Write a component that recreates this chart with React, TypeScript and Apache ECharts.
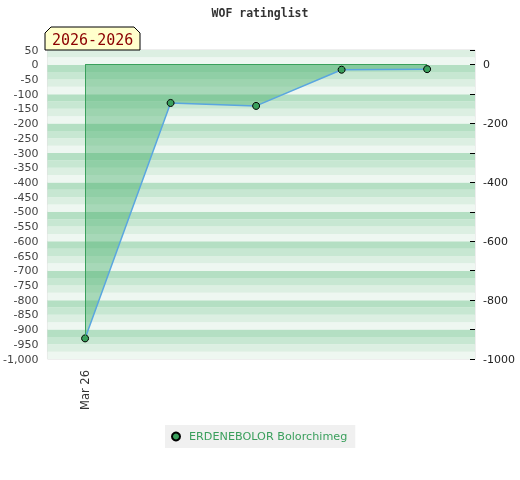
import React, { useEffect, useRef } from "react";
import * as echarts from "echarts";

const seriesName = "ERDENEBOLOR Bolorchimeg";
const xIndex = [0, 1, 2, 3, 4];
const xLabels = ["Mar 26", "", "", "", ""];
const ratingValues = [-930, -130, -140, -17, -15];
const periodLabel = "2026-2026";
const chartTitle = "WOF ratinglist";
const stripeColors = ["#eef7f1", "#dcefe2", "#c7e7d2", "#b4dfc3"];

export default function App() {
  const ref = useRef<HTMLDivElement>(null);
  useEffect(() => {
    if (!ref.current) return;
    const chart = echarts.init(ref.current, null, { renderer: "svg" });
    const data = xIndex.map((x, i) => [x, ratingValues[i]]);
    const last = xIndex.length - 1;
    chart.setOption({
      animation: false,
      title: {
        text: chartTitle,
        left: "center",
        top: 2,
        textStyle: {
          fontFamily: "DejaVu Sans Mono",
          fontWeight: "bold",
          fontSize: 11.5,
          color: "#333",
        },
      },
      grid: {
        left: 45,
        right: 45,
        top: 50,
        bottom: 121,
        show: true,
        borderColor: "#dddddd",
        borderWidth: 1,
      },
      legend: {
        top: 425,
        left: 165,
        backgroundColor: "#f0f0f0",
        padding: [6, 8, 6, 6],
        icon: "circle",
        itemWidth: 16,
        itemHeight: 8,
        itemGap: 6,
        textStyle: { color: "#3a9f5c", fontSize: 11.2, fontFamily: "DejaVu Sans" },
        data: [seriesName],
      },
      xAxis: {
        type: "value",
        min: -0.44,
        max: 4.56,
        axisLine: { show: false },
        axisTick: { show: false },
        splitLine: { show: false },
        axisLabel: {
          rotate: 90,
          margin: 11,
          color: "#333",
          fontSize: 11.5,
          fontFamily: "DejaVu Sans",
          showMinLabel: false,
          showMaxLabel: false,
          formatter: (v: number) =>
            Number.isInteger(v) && v >= 0 && v < xLabels.length ? xLabels[v] : "",
        },
      },
      yAxis: [
        {
          type: "value",
          position: "left",
          min: -1000,
          max: 50,
          interval: 50,
          axisLine: { show: false },
          axisTick: { show: false },
          splitLine: { show: false },
          axisLabel: {
            color: "#444",
            fontSize: 11,
            fontFamily: "DejaVu Sans",
            margin: 9,
          },
        },
        {
          type: "value",
          position: "right",
          min: -1000,
          max: 50,
          interval: 100,
          axisLine: { show: false },
          axisTick: { show: true, inside: true, length: 5, lineStyle: { color: "#000" } },
          splitLine: { show: false },
          axisLabel: {
            color: "#222",
            fontSize: 11,
            fontFamily: "DejaVu Sans",
            margin: 8,
            formatter: (v: number) => (v <= 0 && v % 200 === 0 ? String(v) : ""),
          },
        },
        {
          type: "value",
          position: "left",
          min: -1000,
          max: 50,
          interval: 25,
          z: 0,
          axisLine: { show: false },
          axisTick: { show: false },
          axisLabel: { show: false },
          splitLine: { show: false },
          splitArea: { show: true, areaStyle: { color: stripeColors } },
        },
      ],
      series: [
        {
          name: seriesName,
          type: "line",
          yAxisIndex: 0,
          data,
          symbol: "circle",
          symbolSize: 7,
          itemStyle: { color: "#3aa05c", borderColor: "#000", borderWidth: 1 },
          lineStyle: { color: "#5aa6e0", width: 1.5 },
          areaStyle: { color: "rgba(70,175,105,0.6)", origin: "auto" },
          markLine: {
            silent: true,
            symbol: "none",
            label: { show: false },
            lineStyle: { color: "#3aa05c", width: 1, type: "solid" },
            data: [
              [{ coord: [xIndex[0], 0] }, { coord: [xIndex[0], ratingValues[0]] }],
              [{ coord: [xIndex[0], 0] }, { coord: [xIndex[last], 0] }],
            ],
          },
          z: 3,
        },
      ],
      graphic: [
        {
          type: "polygon",
          z: 100,
          shape: {
            points: [
              [45, 50],
              [45, 33],
              [51, 27],
              [134, 27],
              [140, 33],
              [140, 50],
            ],
          },
          style: { fill: "#ffffcc", stroke: "#000", lineWidth: 1 },
        },
        {
          type: "text",
          z: 101,
          x: 52,
          y: 40,
          style: {
            text: periodLabel,
            fill: "#8b0000",
            fontSize: 15,
            fontFamily: "DejaVu Sans Mono",
            verticalAlign: "middle",
          },
        },
      ],
    });
    return () => chart.dispose();
  }, []);
  return (
    <div
      ref={ref}
      style={{ position: "fixed", left: 0, top: 0, width: 520, height: 480 }}
    />
  );
}
